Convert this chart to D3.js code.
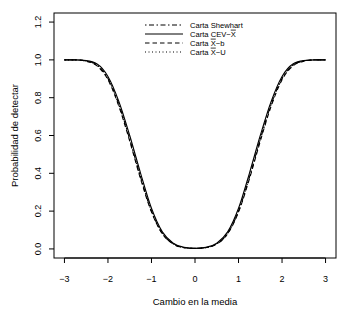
<!DOCTYPE html>
<html><head><meta charset="utf-8">
<script src="https://cdn.jsdelivr.net/npm/d3@7"></script>
<style>
body{margin:0;background:#fff;}
svg text{font-family:"Liberation Sans",Arial,sans-serif;fill:#000;}
</style></head>
<body><svg id="c" width="350" height="315"></svg>
<script>
const delta = [-3,-2.75,-2.5,-2.25,-2,-1.75,-1.5,-1.25,-1,-0.75,-0.5,-0.25,0,0.25,0.5,0.75,1,1.25,1.5,1.75,2,2.25,2.5,2.75,3];
const shewhart = [1,1,0.994,0.972,0.902,0.765,0.58,0.38,0.2,0.082,0.027,0.007,0.003,0.007,0.027,0.082,0.2,0.38,0.58,0.765,0.902,0.972,0.994,1,1];
const cev      = [1,1,0.996,0.978,0.912,0.78,0.6,0.4,0.215,0.09,0.03,0.008,0.003,0.008,0.03,0.09,0.215,0.4,0.6,0.78,0.912,0.978,0.996,1,1];
const xbarB    = [1,1,0.993,0.968,0.895,0.755,0.57,0.37,0.195,0.08,0.026,0.007,0.003,0.007,0.026,0.08,0.195,0.37,0.57,0.755,0.895,0.968,0.993,1,1];
const xbarU    = [1,1,0.994,0.972,0.9,0.762,0.578,0.378,0.2,0.083,0.028,0.007,0.003,0.007,0.028,0.083,0.2,0.378,0.578,0.762,0.9,0.972,0.994,1,1];
const xTicks = [-3,-2,-1,0,1,2,3];
const yTicks = [0,0.2,0.4,0.6,0.8,1.0,1.2];

const svg = d3.select("#c");
const L=54,R=336,T=13,B=258;
const x = d3.scaleLinear().domain([-3.24,3.24]).range([L,R]);
const y = d3.scaleLinear().domain([-0.048,1.248]).range([B,T]);

svg.append("rect").attr("x",L).attr("y",T).attr("width",R-L).attr("height",B-T)
  .attr("fill","none").attr("stroke","#000").attr("stroke-width",1);

// x axis
const xa = svg.append("g");
xa.append("line").attr("x1",x(-3)).attr("x2",x(3)).attr("y1",B).attr("y2",B).attr("stroke","#000");
xTicks.forEach(t=>{
  xa.append("line").attr("x1",x(t)).attr("x2",x(t)).attr("y1",B).attr("y2",B+5).attr("stroke","#000");
  xa.append("text").attr("x",x(t)).attr("y",282).attr("text-anchor","middle").attr("font-size",9)
    .text(t<0?"\u2212"+Math.abs(t):String(t));
});
// y axis
yTicks.forEach(t=>{
  svg.append("line").attr("x1",L-5).attr("x2",L).attr("y1",y(t)).attr("y2",y(t)).attr("stroke","#000");
  svg.append("text").attr("transform",`translate(41,${y(t)}) rotate(-90)`).attr("text-anchor","middle")
    .attr("font-size",9).text(t.toFixed(1));
});
svg.append("text").attr("x",(L+R)/2).attr("y",305).attr("text-anchor","middle").attr("font-size",9.5).text("Cambio en la media");
svg.append("text").attr("transform",`translate(18,${(T+B)/2}) rotate(-90)`).attr("text-anchor","middle").attr("font-size",9.5).text("Probabilidad de detectar");

const series = [
  {name:"Shewhart", vals:shewhart, dash:"1.5,2.5,5,2.5"},
  {name:"CEV", vals:cev, dash:null},
  {name:"Xb", vals:xbarB, dash:"4.5,3"},
  {name:"XU", vals:xbarU, dash:"1,2.5"}
];
const line = d3.line().x(d=>x(d[0])).y(d=>y(d[1])).curve(d3.curveMonotoneX);
series.forEach(s=>{
  svg.append("path").datum(delta.map((d,i)=>[d,s.vals[i]])).attr("d",line)
    .attr("fill","none").attr("stroke","#000").attr("stroke-width",1.1)
    .attr("stroke-dasharray",s.dash);
});

// legend
const lg = svg.append("g");
const rows = [25,34,43,52];
series.forEach((s,i)=>{
  lg.append("line").attr("x1",145).attr("x2",183).attr("y1",rows[i]).attr("y2",rows[i])
    .attr("stroke","#000").attr("stroke-width",1).attr("stroke-dasharray",s.dash);
});
function legText(i, parts){
  const t = lg.append("text").attr("x",190).attr("y",rows[i]+2.7).attr("font-size",7.6);
  parts.forEach(p=>{
    const ts = t.append("tspan").text(p[0]);
    if(p[1]) ts.style("text-decoration","overline");
  });
}
legText(0,[["Carta Shewhart"]]);
legText(1,[["Carta CEV\u2212"],["X",true]]);
legText(2,[["Carta "],["X",true],["\u2212b"]]);
legText(3,[["Carta "],["X",true],["\u2212U"]]);
</script></body></html>
